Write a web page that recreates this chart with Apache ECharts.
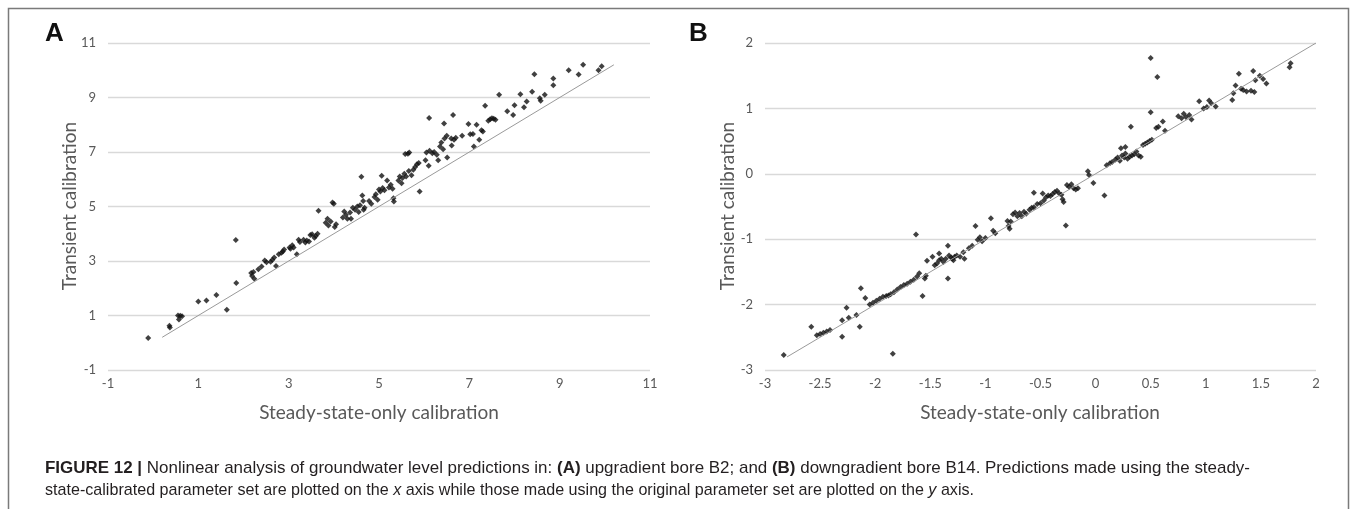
<!DOCTYPE html>
<html>
<head>
<meta charset="utf-8">
<script src="https://cdn.jsdelivr.net/npm/echarts@6/dist/echarts.min.js"></script>
<style>
html,body{margin:0;padding:0;background:#fff;}
#c{width:1352px;height:509px;}
</style>
</head>
<body>
<div id="c"></div>
<script>
// ---------- DATA ----------
const xTicksA = [-1, 1, 3, 5, 7, 9, 11];
const yTicksA = [-1, 1, 3, 5, 7, 9, 11];
const xTicksB = [-3, -2.5, -2, -1.5, -1, -0.5, 0, 0.5, 1, 1.5, 2];
const yTicksB = [-3, -2, -1, 0, 1, 2];

const lineA = [[0.2, 0.2], [10.2, 10.2]];
const lineB = [[-2.8, -2.8], [2, 2]];

const pointsA = [
[-0.11,0.17],[0.36,0.62],[0.37,0.56],[0.55,1.0],[0.6,0.99],[0.57,0.85],[0.64,0.97],[1.0,1.51],[1.18,1.55],[1.4,1.75],[1.63,1.21],[1.83,3.77],[1.84,2.19],
[2.17,2.56],[2.19,2.45],[2.24,2.35],[2.22,2.6],[2.33,2.7],[2.4,2.8],[2.47,3.02],[2.51,2.95],[2.6,2.97],[2.64,3.05],[2.68,3.13],[2.72,2.82],[2.78,3.25],[2.84,3.3],[2.87,3.35],[2.9,3.42],
[3.02,3.5],[3.04,3.45],[3.08,3.58],[3.11,3.5],[3.18,3.25],[3.22,3.78],[3.25,3.7],[3.33,3.78],[3.37,3.68],[3.4,3.75],[3.45,3.72],[3.48,3.95],[3.52,3.98],[3.57,3.85],[3.6,3.92],[3.64,4.0],[3.66,4.84],
[3.82,4.4],[3.86,4.55],[3.88,4.3],[3.93,4.45],[3.97,5.15],[4.0,5.1],[4.02,4.25],[4.05,4.35],
[4.2,4.6],[4.23,4.82],[4.27,4.7],[4.3,4.55],[4.36,4.78],[4.38,4.55],[4.42,4.95],[4.47,4.88],[4.52,5.0],[4.55,4.8],[4.58,5.05],[4.61,6.09],[4.63,5.4],[4.65,5.2],[4.66,4.88],[4.68,4.95],
[4.78,5.2],[4.83,5.1],[4.9,5.35],[4.93,5.45],[4.97,5.25],[5.0,5.62],[5.03,5.55],[5.06,6.13],[5.08,5.68],[5.12,5.6],[5.18,5.95],[5.22,5.7],[5.26,5.8],[5.3,5.65],[5.32,5.3],[5.33,5.18],
[5.43,5.95],[5.46,6.1],[5.5,5.85],[5.52,6.05],[5.56,6.2],[5.6,6.1],[5.58,6.93],[5.64,6.94],[5.67,6.98],[5.66,6.3],[5.72,6.15],[5.76,6.35],[5.8,6.45],[5.84,6.55],[5.88,6.6],[5.9,5.55],
[6.03,6.7],[6.05,6.98],[6.1,6.5],[6.12,7.05],[6.11,8.25],[6.18,6.95],[6.22,7.0],[6.28,6.9],[6.31,6.7],[6.35,7.2],[6.38,7.35],[6.42,7.1],[6.45,7.5],[6.44,8.05],[6.51,6.8],[6.5,7.6],
[6.6,7.5],[6.64,8.36],[6.66,7.45],[6.7,7.52],[6.61,7.24],[6.84,7.6],[6.98,8.03],[7.02,7.65],[7.08,7.66],[7.1,7.2],[7.16,8.0],[7.22,7.45],[7.27,7.8],[7.3,7.75],[7.35,8.7],
[7.42,8.15],[7.46,8.2],[7.5,8.24],[7.54,8.22],[7.58,8.18],[7.66,9.1],[7.84,8.5],[7.97,8.36],[8.0,8.72],[8.13,9.12],[8.21,8.64],[8.27,8.85],[8.39,9.21],[8.44,9.85],[8.56,8.97],[8.58,8.88],[8.67,9.1],[8.86,9.7],[8.86,9.45],[9.2,10.0],[9.42,9.84],[9.52,10.2],[9.86,10.0],[9.93,10.15]
];

const pointsB = [
[-2.83,-2.77],[-2.58,-2.34],[-2.53,-2.47],[-2.5,-2.45],[-2.47,-2.43],[-2.44,-2.41],[-2.41,-2.39],[-2.3,-2.49],[-2.3,-2.24],[-2.26,-2.05],[-2.24,-2.2],[-2.17,-2.16],[-2.14,-2.34],[-2.13,-1.75],[-2.09,-1.9],[-2.05,-2.0],[-2.02,-1.97],[-1.99,-1.94],[-1.96,-1.91],[-1.93,-1.88],[-1.9,-1.87],[-1.88,-1.86],[-1.84,-2.75],[-1.86,-1.84],[-1.83,-1.81],[-1.8,-1.77],[-1.77,-1.73],[-1.74,-1.7],[-1.71,-1.68],[-1.68,-1.65],[-1.65,-1.62],[-1.63,-0.93],[-1.62,-1.57],[-1.6,-1.52],[-1.57,-1.87],[-1.55,-1.6],[-1.54,-1.56],[-1.53,-1.33],[-1.48,-1.27],[-1.46,-1.4],[-1.44,-1.37],[-1.42,-1.22],[-1.42,-1.32],[-1.4,-1.3],[-1.38,-1.35],[-1.36,-1.3],[-1.34,-1.1],[-1.34,-1.6],[-1.33,-1.25],[-1.31,-1.28],[-1.3,-1.3],[-1.29,-1.32],[-1.28,-1.27],[-1.26,-1.25],[-1.23,-1.27],[-1.2,-1.2],[-1.19,-1.3],[-1.15,-1.14],[-1.12,-1.1],[-1.09,-0.8],[-1.07,-1.01],[-1.05,-0.97],[-1.03,-1.03],[-1.0,-0.98],[-0.95,-0.68],[-0.93,-0.87],[-0.91,-0.91],[-0.8,-0.72],[-0.79,-0.8],[-0.78,-0.84],[-0.77,-0.73],[-0.75,-0.62],[-0.73,-0.59],[-0.71,-0.65],[-0.69,-0.6],[-0.67,-0.65],[-0.65,-0.58],[-0.63,-0.61],[-0.6,-0.55],[-0.58,-0.52],[-0.56,-0.29],[-0.56,-0.51],[-0.53,-0.46],[-0.5,-0.45],[-0.48,-0.3],[-0.47,-0.41],[-0.45,-0.36],[-0.43,-0.33],[-0.41,-0.34],[-0.39,-0.31],[-0.37,-0.28],[-0.35,-0.26],[-0.33,-0.3],[-0.31,-0.32],[-0.3,-0.39],[-0.29,-0.43],[-0.27,-0.79],[-0.26,-0.17],[-0.24,-0.2],[-0.22,-0.16],[-0.2,-0.22],[-0.18,-0.24],[-0.16,-0.22],[-0.07,0.04],[-0.06,-0.02],[-0.02,-0.14],[0.08,-0.33],[0.1,0.13],[0.13,0.16],[0.15,0.18],[0.18,0.22],[0.2,0.25],[0.22,0.2],[0.24,0.28],[0.26,0.25],[0.27,0.31],[0.23,0.39],[0.27,0.41],[0.29,0.23],[0.31,0.26],[0.33,0.28],[0.32,0.72],[0.35,0.3],[0.37,0.34],[0.39,0.28],[0.41,0.26],[0.43,0.44],[0.45,0.46],[0.47,0.48],[0.49,0.5],[0.51,0.52],[0.5,1.77],[0.5,0.94],[0.56,1.48],[0.55,0.7],[0.57,0.72],[0.61,0.8],[0.63,0.66],[0.75,0.88],[0.78,0.85],[0.8,0.92],[0.82,0.87],[0.85,0.9],[0.87,0.83],[0.94,1.11],[0.98,1.0],[1.01,1.02],[1.03,1.12],[1.05,1.08],[1.09,1.03],[1.24,1.13],[1.25,1.23],[1.27,1.35],[1.3,1.53],[1.32,1.3],[1.34,1.28],[1.37,1.26],[1.41,1.27],[1.44,1.25],[1.43,1.57],[1.45,1.43],[1.49,1.5],[1.52,1.45],[1.55,1.38],[1.76,1.63],[1.77,1.69]
];

const xTitle = 'Steady-state-only calibration';
const yTitle = 'Transient calibration';
const caption1 = '{b|FIGURE 12 |} Nonlinear analysis of groundwater level predictions in: {b|(A)} upgradient bore B2; and {b|(B)} downgradient bore B14. Predictions made using the steady-';
const caption2 = 'state-calibrated parameter set are plotted on the {i|x} axis while those made using the original parameter set are plotted on the {i|y} axis.';

// ---------- RENDER ----------
const TICK = '#595959';
const GRID = '#d9d9d9';
const LBL_FONT = 'Lato, "Open Sans", sans-serif';
const CAP_FONT = '"Liberation Sans Narrow", "Liberation Sans", Arial, sans-serif';

const mctx = document.createElement('canvas').getContext('2d');
function richWidth(str, size) {
  let total = 0;
  const re = /\{(\w)\|([^}]*)\}|([^{]+)/g;
  let m;
  while ((m = re.exec(str)) !== null) {
    if (m[1] === 'b') { mctx.font = 'bold ' + size + 'px ' + CAP_FONT; total += mctx.measureText(m[2]).width; }
    else if (m[1] === 'i') { mctx.font = 'italic ' + size + 'px ' + CAP_FONT; total += mctx.measureText(m[2]).width; }
    else { mctx.font = size + 'px ' + CAP_FONT; total += mctx.measureText(m[3]).width; }
  }
  return total;
}
const CAP_SIZE = 17;
const cap1Scale = 1205 / richWidth(caption1, CAP_SIZE);
const cap2Scale = 929 / richWidth(caption2, CAP_SIZE);
const capRich = {
  b: { fontWeight: 'bold', fontSize: CAP_SIZE, fontFamily: CAP_FONT, fill: '#231f20' },
  i: { fontStyle: 'italic', fontSize: CAP_SIZE, fontFamily: CAP_FONT, fill: '#231f20' }
};

function xAxisCfg(idx, min, max, interval) {
  return {
    type: 'value', gridIndex: idx, min: min, max: max, interval: interval,
    axisLine: { show: false }, axisTick: { show: false }, splitLine: { show: false },
    axisLabel: { color: TICK, fontSize: 13, fontFamily: LBL_FONT, margin: 7 }
  };
}
function yAxisCfg(idx, min, max, interval) {
  return {
    type: 'value', gridIndex: idx, min: min, max: max, interval: interval,
    axisLine: { show: false }, axisTick: { show: false },
    splitLine: { show: true, lineStyle: { color: GRID, width: 1.3 } },
    axisLabel: { color: TICK, fontSize: 13, fontFamily: LBL_FONT, margin: 12 }
  };
}

const chart = echarts.init(document.getElementById('c'), null, { renderer: 'canvas' });
chart.setOption({
  animation: false,
  backgroundColor: '#fff',
  grid: [
    { left: 108, top: 43, width: 542, height: 327 },
    { left: 765, top: 43, width: 551, height: 327 }
  ],
  xAxis: [
    xAxisCfg(0, xTicksA[0], xTicksA[xTicksA.length - 1], 2),
    xAxisCfg(1, xTicksB[0], xTicksB[xTicksB.length - 1], 0.5)
  ],
  yAxis: [
    yAxisCfg(0, yTicksA[0], yTicksA[yTicksA.length - 1], 2),
    yAxisCfg(1, yTicksB[0], yTicksB[yTicksB.length - 1], 1)
  ],
  series: [
    { type: 'line', xAxisIndex: 0, yAxisIndex: 0, data: lineA, symbol: 'none', silent: true,
      lineStyle: { color: '#9a9a9a', width: 1 } },
    { type: 'scatter', xAxisIndex: 0, yAxisIndex: 0, data: pointsA, symbol: 'diamond', symbolSize: 6,
      itemStyle: { color: '#111' } },
    { type: 'line', xAxisIndex: 1, yAxisIndex: 1, data: lineB, symbol: 'none', silent: true,
      lineStyle: { color: '#9a9a9a', width: 1 } },
    { type: 'scatter', xAxisIndex: 1, yAxisIndex: 1, data: pointsB, symbol: 'diamond', symbolSize: 6,
      itemStyle: { color: '#111' } }
  ],
  graphic: [
    { type: 'rect', left: 6, top: 6, shape: { width: 1340, height: 540 }, silent: true,
      style: { fill: 'none', stroke: '#7a7a7a', lineWidth: 1.5 } },
    { type: 'text', x: 45, y: 21, style: { text: 'A', font: 'bold 26px "Liberation Sans", Arial, sans-serif', fill: '#111' } },
    { type: 'text', x: 689, y: 21, style: { text: 'B', font: 'bold 26px "Liberation Sans", Arial, sans-serif', fill: '#111' } },
    { type: 'text', x: 70, y: 206, rotation: Math.PI / 2,
      style: { text: yTitle, font: '19px ' + LBL_FONT, fill: TICK, align: 'center', verticalAlign: 'middle' } },
    { type: 'text', x: 728, y: 206, rotation: Math.PI / 2,
      style: { text: yTitle, font: '19px ' + LBL_FONT, fill: TICK, align: 'center', verticalAlign: 'middle' } },
    { type: 'text', x: 379, y: 413,
      style: { text: xTitle, font: '19px ' + LBL_FONT, fill: TICK, align: 'center', verticalAlign: 'middle' } },
    { type: 'text', x: 1040, y: 413,
      style: { text: xTitle, font: '19px ' + LBL_FONT, fill: TICK, align: 'center', verticalAlign: 'middle' } },
    { type: 'text', x: 45, y: 468, scaleX: cap1Scale,
      style: { text: caption1, font: CAP_SIZE + 'px ' + CAP_FONT, fill: '#231f20', verticalAlign: 'middle', rich: capRich } },
    { type: 'text', x: 45, y: 490, scaleX: cap2Scale,
      style: { text: caption2, font: CAP_SIZE + 'px ' + CAP_FONT, fill: '#231f20', verticalAlign: 'middle', rich: capRich } }
  ]
});
</script>
</body>
</html>
